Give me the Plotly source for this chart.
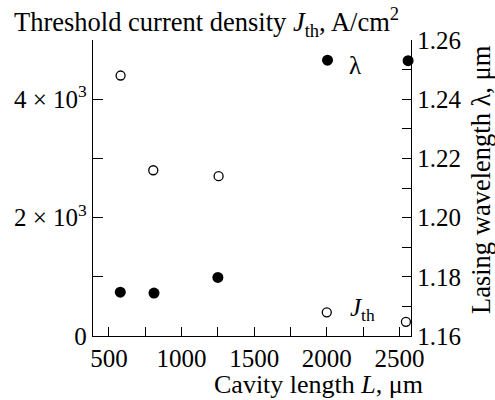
import plotly.graph_objects as go

# Data
L_jth = [580, 805, 1255, 2000, 2545]          # cavity length, um (open circles)
jth = [4400, 2800, 2700, 400, 240]            # threshold current density, A/cm^2
L_lam = [578, 810, 1250, 2005, 2560]          # cavity length, um (filled circles)
lam = [1.1748, 1.1745, 1.1798, 1.2532, 1.2530]  # lasing wavelength, um

x_major = [500, 1000, 1500, 2000, 2500]
x_minor = [750, 1250, 1750, 2250]
y1_major = [0, 2000, 4000]
y1_labels = ["0", "2 × 10<sup>3</sup>", "4 × 10<sup>3</sup>"]
y1_minor = [1000, 3000, 5000]
y2_major = [1.16, 1.18, 1.20, 1.22, 1.24, 1.26]
y2_labels = ["1.16", "1.18", "1.20", "1.22", "1.24", "1.26"]
y2_minor = [1.17, 1.19, 1.21, 1.23, 1.25]

FONT = "Liberation Serif"
FS = 25
TS = 26.5

fig = go.Figure()
fig.add_trace(go.Scatter(
    x=L_jth, y=jth, mode="markers", yaxis="y", cliponaxis=False,
    marker=dict(symbol="circle", size=9, color="white",
                line=dict(color="black", width=1.3)),
    showlegend=False))
fig.add_trace(go.Scatter(
    x=L_lam, y=lam, mode="markers", yaxis="y2", cliponaxis=False,
    marker=dict(symbol="circle", size=11, color="black"),
    showlegend=False))

axis_common = dict(showline=True, linecolor="black", linewidth=1.3,
                   ticks="inside", tickcolor="black", tickwidth=1.3,
                   showgrid=False, zeroline=False,
                   tickfont=dict(family=FONT, size=FS, color="black"))

fig.update_layout(
    width=495, height=400,
    margin=dict(l=93, r=84, t=40, b=64),
    paper_bgcolor="white", plot_bgcolor="white",
    font=dict(family=FONT, size=FS, color="black"),
    xaxis=dict(range=[390, 2580], tickmode="array", tickvals=x_major,
               ticktext=[str(v) for v in x_major], ticklen=9,
               minor=dict(tickmode="array", tickvals=x_minor, ticks="inside",
                          ticklen=9, tickwidth=1.3, tickcolor="black"),
               **axis_common),
    yaxis=dict(range=[0, 5000], tickmode="array", tickvals=y1_major,
               ticktext=y1_labels, ticklen=10,
               minor=dict(tickmode="array", tickvals=y1_minor, ticks="inside",
                          ticklen=10, tickwidth=1.3, tickcolor="black"),
               **axis_common),
    yaxis2=dict(range=[1.16, 1.26], tickmode="array", tickvals=y2_major,
                ticktext=y2_labels, ticklen=9, overlaying="y", side="right",
                anchor="x",
                minor=dict(tickmode="array", tickvals=y2_minor, ticks="inside",
                           ticklen=9, tickwidth=1.3, tickcolor="black"),
                **axis_common),
    annotations=[
        dict(text="Threshold current density <i>J</i><sub>th</sub>, A/cm<sup>2</sup>",
             xref="paper", yref="paper", x=-0.255, y=1.06,
             xanchor="left", yanchor="middle", showarrow=False,
             font=dict(family=FONT, size=TS)),
        dict(text="Cavity length <i>L</i>, μm",
             xref="paper", yref="paper", x=0.71, y=0, yshift=-32,
             xanchor="center", yanchor="top", showarrow=False,
             font=dict(family=FONT, size=26)),
        dict(text="Lasing wavelength λ, μm",
             xref="paper", yref="paper", x=1.0, xshift=70, y=0.527,
             xanchor="center", yanchor="middle", textangle=-90, showarrow=False,
             font=dict(family=FONT, size=TS)),
        dict(text="λ", xref="x", yref="y2", x=2194, y=1.2515,
             showarrow=False, font=dict(family=FONT, size=FS)),
        dict(text="<i>J</i><sub>th</sub>", xref="x", yref="y", x=2245, y=440,
             showarrow=False, font=dict(family=FONT, size=FS)),
    ],
)

fig.write_html("out.html")
